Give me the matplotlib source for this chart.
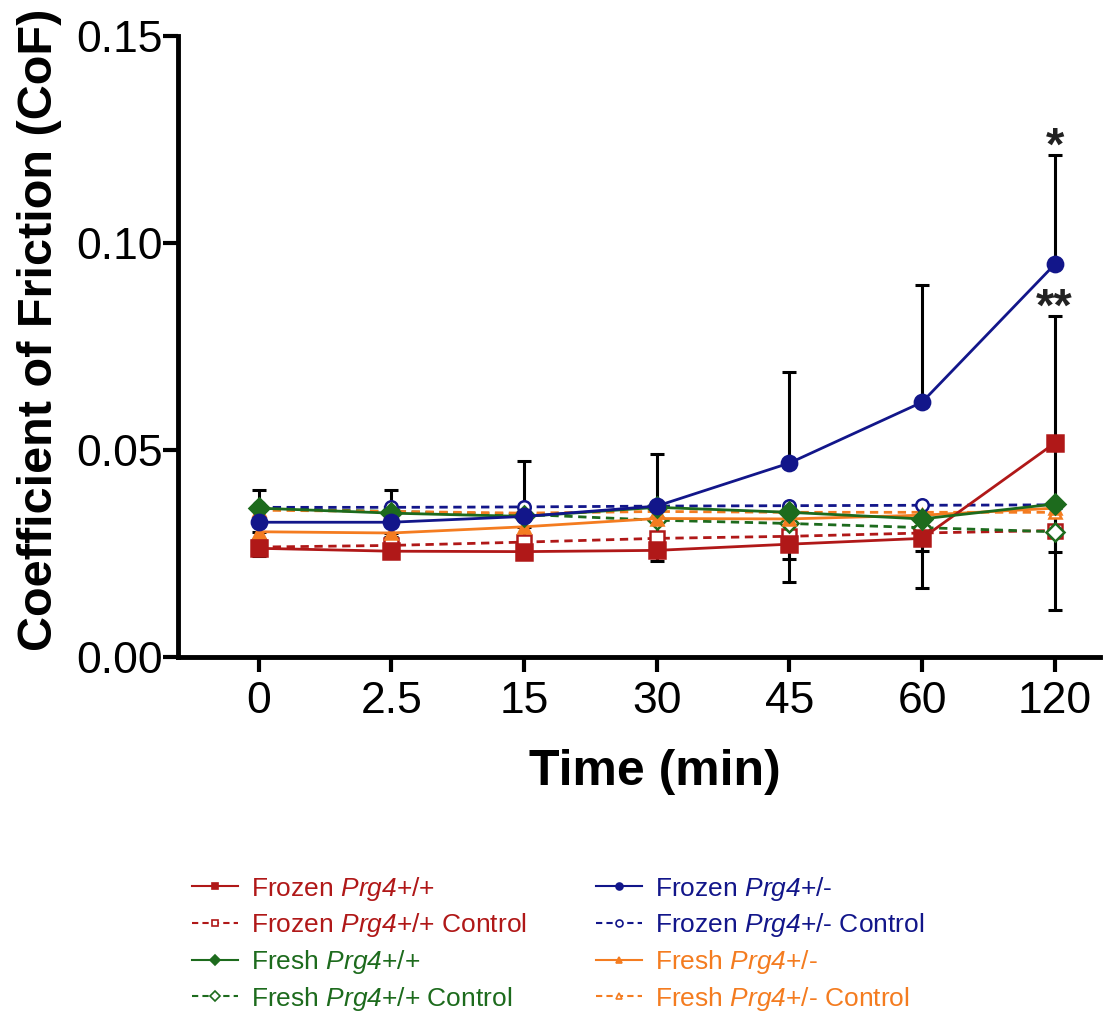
import numpy as np
import matplotlib
matplotlib.use("Agg")
from matplotlib import pyplot as plt

plt.rcParams['font.family'] = ['Liberation Sans', 'DejaVu Sans']
plt.rcParams['mathtext.fontset'] = 'custom'
plt.rcParams['mathtext.rm'] = 'Liberation Sans:italic'
plt.rcParams['mathtext.it'] = 'Liberation Sans:italic'

# time points (categorical axis)
times = ['0', '2.5', '15', '30', '45', '60', '120']

# mean coefficient of friction per group
frozen_wt = [0.0263, 0.0256, 0.0255, 0.0258, 0.0273, 0.0287, 0.0517]
frozen_wt_ctrl = [0.0266, 0.0270, 0.0278, 0.0287, 0.0292, 0.0300, 0.0306]
fresh_wt = [0.0360, 0.0348, 0.0340, 0.0362, 0.0350, 0.0334, 0.0370]
fresh_wt_ctrl = [0.0360, 0.0352, 0.0345, 0.0331, 0.0323, 0.0313, 0.0303]
frozen_het = [0.0326, 0.0326, 0.0340, 0.0365, 0.0469, 0.0616, 0.0949]
frozen_het_ctrl = [0.0362, 0.0362, 0.0363, 0.0365, 0.0366, 0.0367, 0.0368]
fresh_het = [0.0303, 0.0300, 0.0315, 0.0335, 0.0334, 0.0343, 0.0360]
fresh_het_ctrl = [0.0355, 0.0352, 0.0348, 0.0352, 0.0350, 0.0350, 0.0350]

# whisker ends
frozen_het_top = [0.0403, 0.0403, 0.0473, 0.0490, 0.0688, 0.0899, 0.1213]
frozen_wt_top = [0.0263, 0.0256, 0.0255, 0.0258, 0.0273, 0.0287, 0.0824]
frozen_wt_bottom = [0.0245, 0.0240, 0.0240, 0.0232, 0.0237, 0.0256, 0.0254]
fresh_het_bottom = [0.0285, 0.0290, 0.0290, 0.0295, 0.0181, 0.0167, 0.0114]

stars = ['*', '**']
star_values = [frozen_het_top[-1], frozen_wt_top[-1]]

RED = '#b01818'
GREEN = '#1d6b1d'
BLUE = '#12168a'
ORANGE = '#f47c20'

fig = plt.figure(figsize=(11.12, 10.11), dpi=100)
ax = fig.add_axes([0.160, 0.350, 0.829, 0.614])

x = np.arange(len(times))

# error bars (black, drawn first)
eb = dict(fmt='none', ecolor='black', elinewidth=2.2, capsize=5, capthick=2.2, zorder=2)
ax.errorbar(x, frozen_het, yerr=[np.zeros(len(x)), np.array(frozen_het_top) - frozen_het], **eb)
ax.errorbar(x, frozen_wt, yerr=[np.array(frozen_wt) - frozen_wt_bottom,
                                np.array(frozen_wt_top) - frozen_wt], **eb)
ax.errorbar(x, fresh_het, yerr=[np.array(fresh_het) - fresh_het_bottom, np.zeros(len(x))], **eb)

series = [
    (frozen_wt, r'Frozen $Prg4$+/+', RED, 's', '-', True, 12),
    (frozen_wt_ctrl, r'Frozen $Prg4$+/+ Control', RED, 's', '--', False, 10),
    (fresh_wt, r'Fresh $Prg4$+/+', GREEN, 'D', '-', True, 10),
    (fresh_wt_ctrl, r'Fresh $Prg4$+/+ Control', GREEN, 'D', '--', False, 9),
    (frozen_het, r'Frozen $Prg4$+/-', BLUE, 'o', '-', True, 11),
    (frozen_het_ctrl, r'Frozen $Prg4$+/- Control', BLUE, 'o', '--', False, 9),
    (fresh_het, r'Fresh $Prg4$+/-', ORANGE, '^', '-', True, 9),
    (fresh_het_ctrl, r'Fresh $Prg4$+/- Control', ORANGE, '^', '--', False, 9),
]

draw_order = [1, 3, 7, 5, 6, 0, 2, 4]
for i in draw_order:
    vals, label, color, marker, ls, filled, ms = series[i]
    ax.plot(x, vals, color=color, linestyle=ls, linewidth=2.0,
            marker=marker, markersize=ms,
            markerfacecolor=color if filled else 'white',
            markeredgecolor=color, markeredgewidth=1.8,
            dashes=(3, 2) if ls == '--' else (None, None), zorder=3)

for s, v in zip(stars, star_values):
    ax.text(x[-1], v - 0.0036, s, ha='center', va='bottom', fontsize=34,
            fontweight='bold', color='#222222')

ax.set_xlim(-0.61, 6.34)
ax.set_ylim(0, 0.15)
ax.set_xticks(x)
ax.set_xticklabels(times)
ax.set_yticks([0, 0.05, 0.10, 0.15])
ax.set_yticklabels(['0.00', '0.05', '0.10', '0.15'])
ax.tick_params(axis='both', labelsize=32, width=3, length=11, direction='out')
ax.tick_params(axis='x', pad=6)
ax.tick_params(axis='y', pad=0)
for side in ['top', 'right']:
    ax.spines[side].set_visible(False)
for side in ['left', 'bottom']:
    ax.spines[side].set_linewidth(3.5)

ax.set_xlabel('Time (min)', fontsize=36, fontweight='bold', va='center')
ax.xaxis.set_label_coords(0.517, -0.185)
ax.set_ylabel('Coefficient of Friction (CoF)', fontsize=35, fontweight='bold', va='center')
ax.yaxis.set_label_coords(-0.150, 0.527)

# legend: two columns below the axes
for idxs, left in [([0, 1, 2, 3], 181 / 1112), ([4, 5, 6, 7], 585 / 1112)]:
    hs = []
    for i in idxs:
        vals, label, color, marker, ls, filled, ms = series[i]
        h, = plt.plot([], [], color=color, linestyle=ls, linewidth=1.5, marker=marker,
                      markersize=5, markerfacecolor=color if filled else 'white',
                      markeredgecolor=color, markeredgewidth=1.2,
                      dashes=(3, 2) if ls == '--' else (None, None), label=label)
        hs.append(h)
    leg = fig.legend(handles=hs, loc='upper left', bbox_to_anchor=(left, 1 - 864 / 1011),
                     frameon=False, fontsize=19, handlelength=1.75, handletextpad=0.5,
                     labelspacing=0.33, numpoints=1, borderaxespad=0)
    for txt, i in zip(leg.get_texts(), idxs):
        txt.set_color(series[i][2])

fig.savefig('out.png', dpi=100)
